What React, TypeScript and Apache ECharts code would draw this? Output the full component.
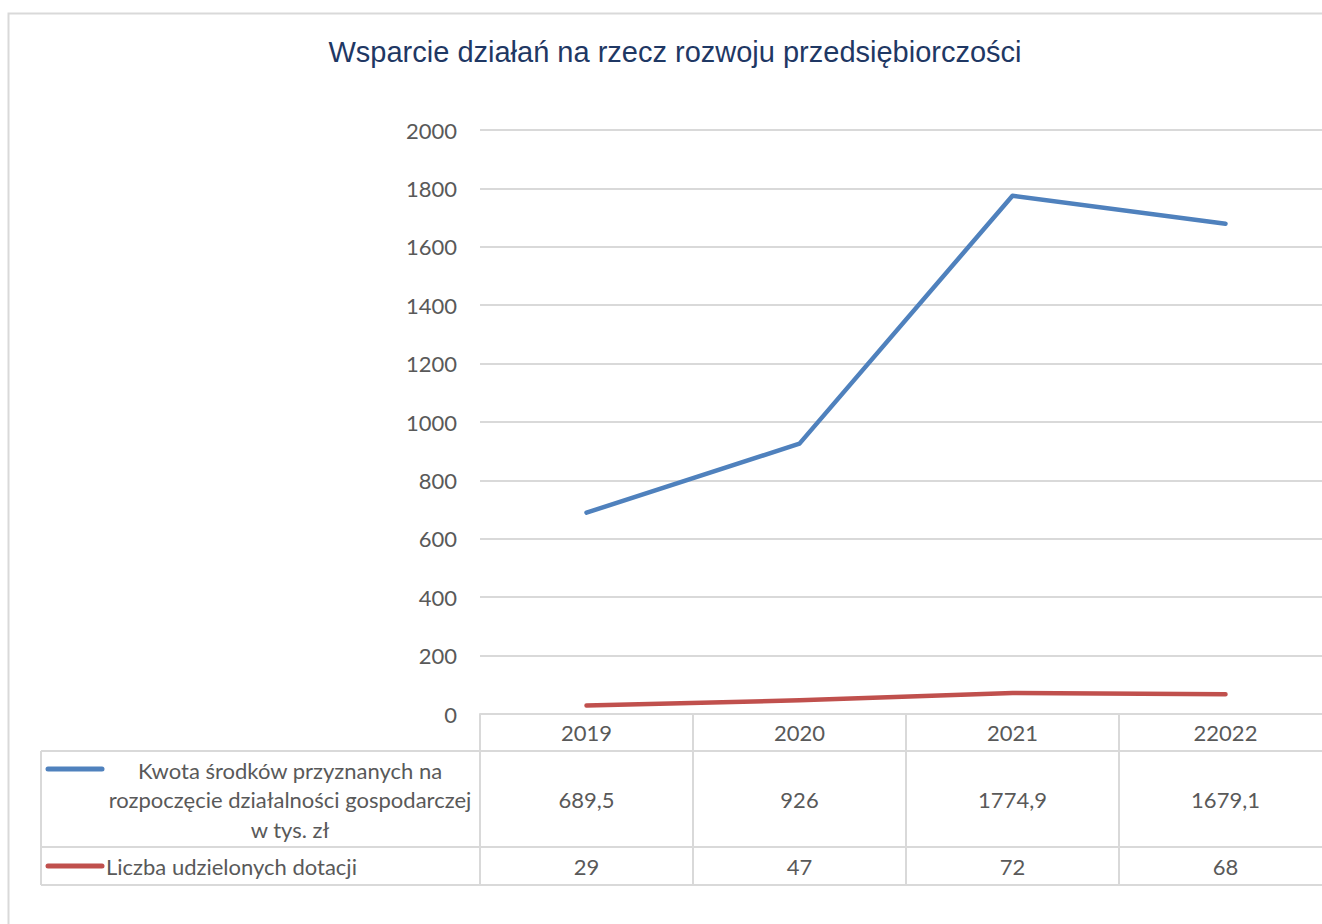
import React, { useEffect, useRef } from "react";
import * as echarts from "echarts";

const TITLE = "Wsparcie działań na rzecz rozwoju przedsiębiorczości";
const categories = ["2019", "2020", "2021", "22022"];
const kwota = [689.5, 926, 1774.9, 1679.1];
const dotacje = [29, 47, 72, 68];
const kwotaLabel = ["Kwota środków przyznanych na", "rozpoczęcie działalności gospodarczej", "w tys. zł"];
const dotacjeLabel = "Liczba udzielonych dotacji";
const yMin = 0;
const yMax = 2000;
const yStep = 200;

const BLUE = "#4F81BD";
const RED = "#C0504D";
const GRID = "#D9D9D9";
const TXT = "#595959";
const FONT = "Lato, 'Open Sans', sans-serif";
const FS = 22;

const fmt = (v: number) => String(v).replace(".", ",");

export default function App() {
  const ref = useRef<HTMLDivElement>(null);
  useEffect(() => {
    if (!ref.current) return;
    const chart = echarts.init(ref.current, undefined, { renderer: "svg" });
    const gridLeft = 480;
    const gridTop = 130;
    const gridH = 584;
    const bandW = 213;
    const gridW = bandW * categories.length;
    const tableLeft = 41;
    const tableRight = gridLeft + gridW;
    const row1 = 751;
    const row2 = 847;
    const row3 = 885;

    chart.setOption({
      animation: false,
      backgroundColor: "#ffffff",
      title: {
        text: TITLE,
        left: 670,
        top: 32,
        textAlign: "center",
        textStyle: { fontFamily: "'Liberation Sans', Arial, sans-serif", fontSize: 29, fontWeight: "normal", color: "#1F3864" },
      },
      grid: { left: gridLeft, top: gridTop, width: gridW, height: gridH, containLabel: false },
      xAxis: {
        type: "category",
        data: categories,
        boundaryGap: true,
        axisLine: { show: true, lineStyle: { color: GRID, width: 2 } },
        axisTick: { show: true, length: row3 - (gridTop + gridH), lineStyle: { color: GRID, width: 2 } },
        axisLabel: { color: TXT, fontFamily: FONT, fontSize: FS, margin: 7 },
        splitLine: { show: false },
      },
      yAxis: {
        type: "value",
        min: yMin,
        max: yMax,
        interval: yStep,
        axisLine: { show: false },
        axisTick: { show: false },
        axisLabel: { color: TXT, fontFamily: FONT, fontSize: FS, margin: 23, formatter: (v: number) => String(v) },
        splitLine: { lineStyle: { color: GRID, width: 2 } },
      },
      series: [
        {
          name: kwotaLabel.join(" "),
          type: "line",
          data: kwota,
          symbol: "none",
          lineStyle: { color: BLUE, width: 4.5, cap: "round", join: "round" },
        },
        {
          name: dotacjeLabel,
          type: "line",
          data: dotacje,
          symbol: "none",
          lineStyle: { color: RED, width: 4.5, cap: "round", join: "round" },
        },
      ],
    });

    const xs = categories.map((c) => chart.convertToPixel({ xAxisIndex: 0 }, c) as number);
    const lineStyle = { stroke: GRID, lineWidth: 2 };
    const graphics: any[] = [
      { type: "rect", shape: { x: 8.5, y: 13.5, width: 1340, height: 940 }, style: { fill: "none", stroke: GRID, lineWidth: 2 }, silent: true, z: -1 },
      { type: "line", shape: { x1: tableLeft, y1: row1, x2: tableRight, y2: row1 }, style: lineStyle },
      { type: "line", shape: { x1: tableLeft, y1: row2, x2: tableRight, y2: row2 }, style: lineStyle },
      { type: "line", shape: { x1: tableLeft, y1: row3, x2: tableRight, y2: row3 }, style: lineStyle },
      { type: "line", shape: { x1: tableLeft, y1: row1, x2: tableLeft, y2: row3 }, style: lineStyle },
      { type: "line", shape: { x1: 48, y1: 769, x2: 102, y2: 769 }, style: { stroke: BLUE, lineWidth: 5, lineCap: "round" } },
      { type: "line", shape: { x1: 48, y1: 866, x2: 102, y2: 866 }, style: { stroke: RED, lineWidth: 5, lineCap: "round" } },
      ...kwotaLabel.map((t, i) => ({
        type: "text",
        x: 290,
        y: 770 + i * 29.5,
        style: { text: t, fill: TXT, font: `${FS}px ${FONT}`, align: "center", verticalAlign: "middle" },
      })),
      {
        type: "text",
        x: 106,
        y: 866,
        style: { text: dotacjeLabel, fill: TXT, font: `${FS}px ${FONT}`, align: "left", verticalAlign: "middle" },
      },
      ...kwota.map((v, i) => ({
        type: "text",
        x: xs[i],
        y: 799,
        style: { text: fmt(v), fill: TXT, font: `${FS}px ${FONT}`, align: "center", verticalAlign: "middle" },
      })),
      ...dotacje.map((v, i) => ({
        type: "text",
        x: xs[i],
        y: 866,
        style: { text: fmt(v), fill: TXT, font: `${FS}px ${FONT}`, align: "center", verticalAlign: "middle" },
      })),
    ];
    chart.setOption({ graphic: { elements: graphics } });
    return () => chart.dispose();
  }, []);
  return (
    <div style={{ position: "fixed", left: 0, top: 0, width: 1322, height: 924, overflow: "hidden", background: "#fff" }}>
      <div ref={ref} style={{ width: 1360, height: 960 }} />
    </div>
  );
}
